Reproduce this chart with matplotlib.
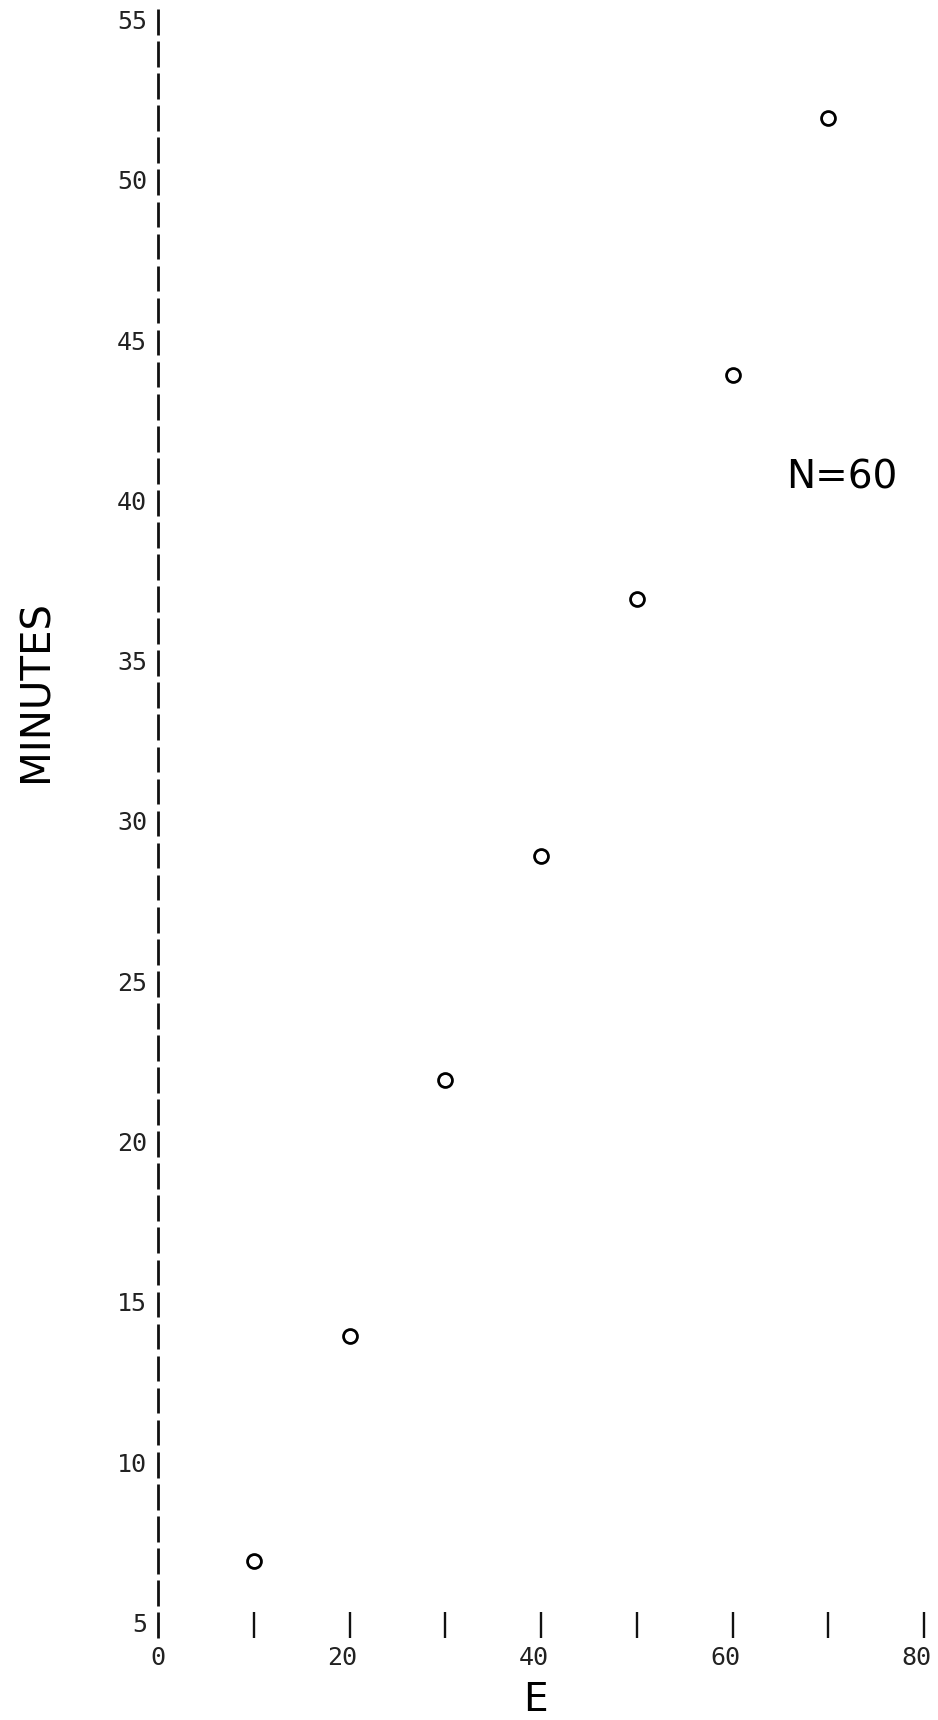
import matplotlib
matplotlib.use('Agg')
import matplotlib.pyplot as plt
import matplotlib.transforms as mtransforms
import numpy as np

# values
e_values = [10, 20, 30, 40, 50, 60, 70]
minutes = [7, 14, 22, 29, 37, 44, 52]

x_ticks = [0, 10, 20, 30, 40, 50, 60, 70, 80]
x_labels = ['0', '20', '40', '60', '80']
x_label_pos = [0, 20, 40, 60, 80]
y_ticks = [5, 10, 15, 20, 25, 30, 35, 40, 45, 50, 55]
y_labels = ['5', '10', '15', '20', '25', '30', '35', '40', '45', '50', '55']

mono = 'DejaVu Sans Mono'
fs_tick = 18

fig = plt.figure(figsize=(9.38, 17.2), dpi=100)
ax = fig.add_axes([158 / 938, 95 / 1720, 766 / 938, 1603 / 1720])
ax.set_xlim(0, 80)
ax.set_ylim(5, 55)
ax.axis('off')

# line-printer style y axis: one "|" per unit
ys = np.arange(5, 56)
ax.vlines(np.zeros(len(ys)), ys - 0.4, ys + 0.4, color='#111111', lw=2.0, clip_on=False)

# x ticks sit on the bottom row
xt = np.array(x_ticks[1:])
ax.vlines(xt, np.full(len(xt), 5 - 0.4), np.full(len(xt), 5 + 0.4), color='#111111', lw=1.7, clip_on=False)

# y tick labels
for y, s in zip(y_ticks, y_labels):
    tr = mtransforms.offset_copy(ax.transData, fig=fig, x=-8, y=0, units='points')
    ax.text(0, y, s, transform=tr, ha='right', va='center', fontsize=fs_tick,
            family=mono, color='#222222', clip_on=False)

# x tick labels, last digit under the tick
for x, s in zip(x_label_pos, x_labels):
    dx = -(len(s) - 1) * 0.6 * fs_tick / 2
    tr = mtransforms.offset_copy(ax.transData, fig=fig, x=dx, y=-24, units='points')
    ax.text(x, 5, s, transform=tr, ha='center', va='center', fontsize=fs_tick,
            family=mono, color='#222222', clip_on=False)

ax.plot(e_values, minutes, linestyle='none', marker='o', markersize=10,
        markerfacecolor='white', markeredgecolor='black', markeredgewidth=2.0, clip_on=False)

ax.text(71.4, 40.8, 'N=60', ha='center', va='center', fontsize=28, color='black')

fig.text(37 / 938, 1 - 691 / 1720, 'MINUTES', rotation=90, ha='center', va='center',
         fontsize=29, color='black')
fig.text(535 / 938, 1 - 1700 / 1720, 'E', ha='center', va='center', fontsize=28, color='black')

fig.savefig('out.png', dpi=100, facecolor='white')
